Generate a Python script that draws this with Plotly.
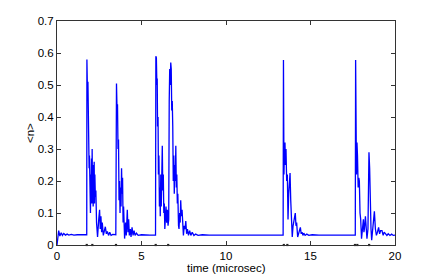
import plotly.graph_objects as go

# time (microsec) and <n> values
t = [0, 0.05, 0.1, 0.17, 0.25, 0.32, 0.4, 0.5, 0.6, 0.7, 0.85, 1.0, 1.2, 1.76,
     1.77, 1.79, 1.81, 1.83, 1.86, 1.88, 1.90, 1.92, 1.94, 1.96, 1.98, 2.0, 2.02, 2.04, 2.06, 2.08,
     2.10, 2.12, 2.14, 2.16, 2.18, 2.20, 2.22, 2.24, 2.27, 2.30, 2.34, 2.40, 2.47, 2.52, 2.56, 2.60,
     2.64, 2.68, 2.74, 2.80, 2.86, 2.92, 2.98, 3.05, 3.12, 3.2, 3.3, 3.48,
     3.49, 3.52, 3.55, 3.58, 3.61, 3.64, 3.67, 3.70, 3.73, 3.76, 3.79, 3.82, 3.85, 3.88, 3.91, 3.94,
     4.00, 4.06, 4.10, 4.16, 4.20, 4.24, 4.28, 4.34, 4.38, 4.44, 4.50, 4.56, 4.62, 4.70, 4.8, 5.0,
     5.5, 5.83,
     5.85, 5.88, 5.91, 5.93, 5.95, 5.98, 6.00, 6.03, 6.06, 6.09, 6.11, 6.14, 6.17, 6.20, 6.23, 6.26,
     6.29, 6.32, 6.35, 6.38, 6.42, 6.45, 6.49, 6.53, 6.57, 6.61, 6.64, 6.67, 6.70, 6.73, 6.76, 6.79,
     6.82, 6.85, 6.88, 6.91, 6.94, 6.97, 7.00, 7.03, 7.06, 7.09, 7.12, 7.15, 7.19, 7.22, 7.26, 7.29,
     7.32, 7.36, 7.40, 7.44, 7.48, 7.53, 7.58, 7.62, 7.67, 7.72, 7.78, 7.85, 7.92, 8.0, 8.1, 8.2,
     8.35, 8.6, 9.0, 10, 12, 13.38,
     13.40, 13.43, 13.46, 13.49, 13.52, 13.55, 13.59, 13.63, 13.67, 13.71, 13.75, 13.79, 13.83, 13.87,
     13.92, 13.97, 14.03, 14.10, 14.14, 14.18, 14.24, 14.30, 14.36, 14.40, 14.45, 14.50, 14.55, 14.60,
     14.68, 14.78, 14.9, 15.1, 15.5, 16.5, 17.65,
     17.67, 17.72, 17.75, 17.78, 17.82, 17.86, 17.89, 17.93, 17.97, 18.02, 18.08, 18.13, 18.16, 18.19,
     18.25, 18.29, 18.34, 18.40, 18.46, 18.50, 18.54, 18.58, 18.62, 18.68, 18.74, 18.78, 18.84, 18.90,
     18.96, 19.03, 19.09, 19.15, 19.23, 19.30, 19.36, 19.43, 19.52, 19.60, 19.7, 19.8, 19.9, 20]

n = [0.0, 0.03, 0.045, 0.028, 0.038, 0.03, 0.036, 0.031, 0.034, 0.031, 0.033, 0.031, 0.032, 0.032,
     0.58, 0.575, 0.45, 0.51, 0.35, 0.33, 0.24, 0.28, 0.14, 0.25, 0.10, 0.22, 0.15, 0.27, 0.13, 0.30,
     0.18, 0.25, 0.12, 0.26, 0.15, 0.26, 0.13, 0.22, 0.15, 0.17, 0.07, 0.025, 0.08, 0.11, 0.05, 0.09,
     0.04, 0.07, 0.03, 0.04, 0.057, 0.035, 0.042, 0.03, 0.04, 0.03, 0.033, 0.032,
     0.50, 0.505, 0.43, 0.44, 0.30, 0.33, 0.14, 0.20, 0.10, 0.18, 0.12, 0.24, 0.16, 0.21, 0.07, 0.12,
     0.02, 0.07, 0.03, 0.11, 0.04, 0.08, 0.03, 0.05, 0.025, 0.055, 0.03, 0.045, 0.03, 0.037, 0.03, 0.032,
     0.031, 0.031,
     0.59, 0.585, 0.50, 0.52, 0.37, 0.40, 0.22, 0.28, 0.12, 0.18, 0.09, 0.22, 0.12, 0.28, 0.31, 0.17,
     0.22, 0.10, 0.13, 0.05, 0.10, 0.12, 0.07, 0.11, 0.06, 0.08, 0.45, 0.55, 0.50, 0.57, 0.55, 0.42,
     0.45, 0.37, 0.20, 0.28, 0.16, 0.25, 0.20, 0.31, 0.18, 0.22, 0.13, 0.16, 0.06, 0.05, 0.10, 0.07,
     0.14, 0.09, 0.11, 0.04, 0.03, 0.06, 0.05, 0.075, 0.035, 0.05, 0.03, 0.045, 0.03, 0.04, 0.03, 0.034,
     0.03, 0.032, 0.031, 0.031, 0.031, 0.031,
     0.578, 0.22, 0.30, 0.32, 0.25, 0.30, 0.20, 0.22, 0.08, 0.16, 0.20, 0.225, 0.14, 0.10,
     0.025, 0.06, 0.08, 0.10, 0.06, 0.07, 0.025, 0.04, 0.05, 0.055, 0.035, 0.04, 0.03, 0.037,
     0.03, 0.034, 0.03, 0.032, 0.031, 0.031, 0.031,
     0.578, 0.22, 0.32, 0.28, 0.18, 0.21, 0.20, 0.10, 0.08, 0.02, 0.05, 0.08, 0.04, 0.05,
     0.09, 0.06, 0.02, 0.05, 0.29, 0.24, 0.10, 0.05, 0.015, 0.05, 0.08, 0.105, 0.05, 0.03,
     0.04, 0.055, 0.035, 0.045, 0.045, 0.03, 0.04, 0.035, 0.03, 0.035, 0.03, 0.034, 0.03, 0.031]

# event times marked on the time axis
events = [1.76, 2.09, 3.49, 5.84, 6.58, 13.42, 13.63, 17.63, 17.77, 18.47]

x_ticks = [0, 5, 10, 15, 20]
y_ticks = [0, 0.1, 0.2, 0.3, 0.4, 0.5, 0.6, 0.7]
y_labels = ["0", "0.1", "0.2", "0.3", "0.4", "0.5", "0.6", "0.7"]

fig = go.Figure()
fig.add_trace(go.Scatter(x=t, y=n, mode="lines",
                         line=dict(color="#0000ff", width=1.3), showlegend=False))
fig.add_trace(go.Scatter(x=events, y=[0] * len(events), mode="markers",
                         marker=dict(color="#222222", size=2.2, symbol="square"),
                         cliponaxis=False, showlegend=False))

font = dict(family="Liberation Sans", size=11.5, color="black")
axis_common = dict(showgrid=False, zeroline=False, showline=True, linecolor="#333333",
                   linewidth=1, mirror="ticks", ticks="inside", ticklen=4,
                   tickcolor="#333333", tickfont=font, automargin=False)

fig.update_xaxes(range=[0, 20], tickvals=x_ticks, ticktext=[str(v) for v in x_ticks], **axis_common)
fig.update_yaxes(range=[0, 0.7], tickvals=y_ticks, ticktext=y_labels, **axis_common)

fig.add_annotation(text="time (microsec)", xref="paper", yref="paper", x=0.5, y=0,
                   xanchor="center", yanchor="middle", yshift=-23, showarrow=False, font=font)
fig.add_annotation(text="&lt;n&gt;", xref="paper", yref="paper", x=0, y=0.5,
                   xanchor="center", yanchor="middle", xshift=-27, textangle=-90,
                   showarrow=False, font=font)

# page body has an 8px margin, so the figure is sized to land the axes where the reference has them
fig.update_layout(width=428, height=268, margin=dict(l=49, r=41, t=13, b=31),
                  paper_bgcolor="white", plot_bgcolor="white")

fig.write_html("out.html")
